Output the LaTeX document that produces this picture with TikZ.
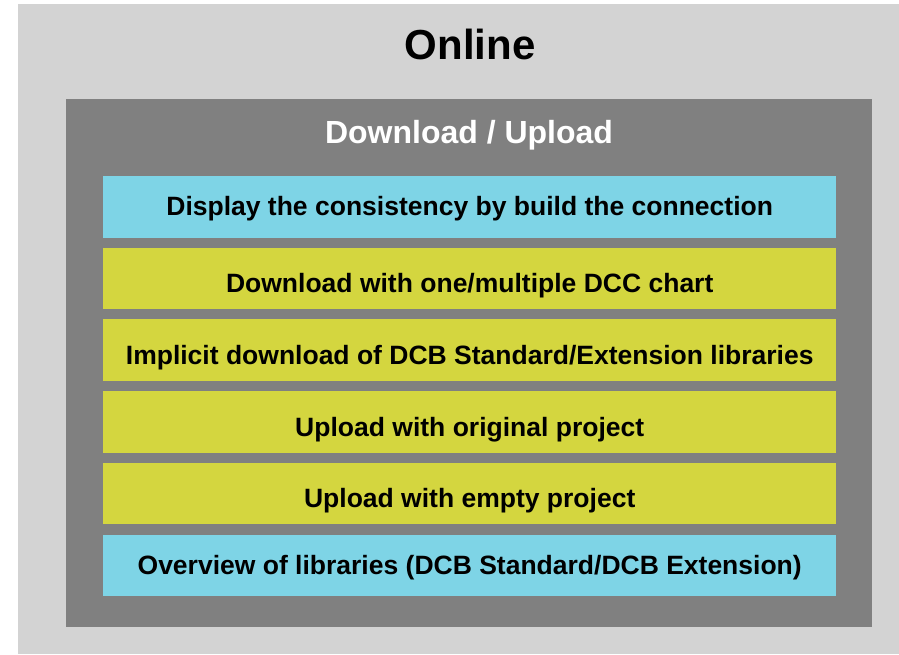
\documentclass[tikz,border=0pt]{standalone}
\usepackage{fontspec}
\setmainfont{Liberation Sans}
\definecolor{lightbg}{HTML}{D3D3D3}
\definecolor{darkbg}{HTML}{808080}
\definecolor{cyanbox}{HTML}{7ED4E6}
\definecolor{yellowbox}{HTML}{D4D63F}
\begin{document}
\begin{tikzpicture}[x=1pt,y=-1pt,
  itembox/.style={minimum width=733pt, minimum height=61.5pt, inner sep=0pt, anchor=north west},
  cyanitem/.style={itembox, fill=cyanbox},
  yellowitem/.style={itembox, fill=yellowbox},
  itemtext/.style={font=\fontsize{26.5}{30}\selectfont\bfseries, text=black, inner sep=0pt,
    text height=19pt, text depth=5.6pt},
  cyantext/.style={itemtext, yshift=-2pt},
  yellowtext/.style={itemtext, yshift=-7.5pt}]
\useasboundingbox (0,0) rectangle (899,654);
\fill[white] (0,0) rectangle (899,654);
\node[fill=lightbg, minimum width=881pt, minimum height=650pt, inner sep=0pt, anchor=north west] (outer) at (18,4) {};
\node[fill=darkbg, minimum width=806pt, minimum height=528pt, inner sep=0pt, anchor=north west] (inner) at (66,99) {};
\node[font=\fontsize{42}{48}\selectfont\bfseries, text=black] (title) at (470,44) {Online};
\node[font=\fontsize{32}{38}\selectfont\bfseries, text=white, yshift=-3pt] (sub) at (469,132) {Download / Upload};
\node[cyanitem] (b1) at (103,176) {};
\node[yellowitem] (b2) at (103,247.5) {};
\node[yellowitem] (b3) at (103,319) {};
\node[yellowitem] (b4) at (103,391) {};
\node[yellowitem] (b5) at (103,462.5) {};
\node[cyanitem] (b6) at (103,534.5) {};
\node[cyantext] (t1) at (b1.center) {Display the consistency by build the connection};
\node[yellowtext] (t2) at (b2.center) {Download with one/multiple DCC chart};
\node[yellowtext] (t3) at (b3.center) {Implicit download of DCB Standard/Extension libraries};
\node[yellowtext] (t4) at (b4.center) {Upload with original project};
\node[yellowtext] (t5) at (b5.center) {Upload with empty project};
\node[cyantext] (t6) at (b6.center) {Overview of libraries (DCB Standard/DCB Extension)};
\end{tikzpicture}
\end{document}
